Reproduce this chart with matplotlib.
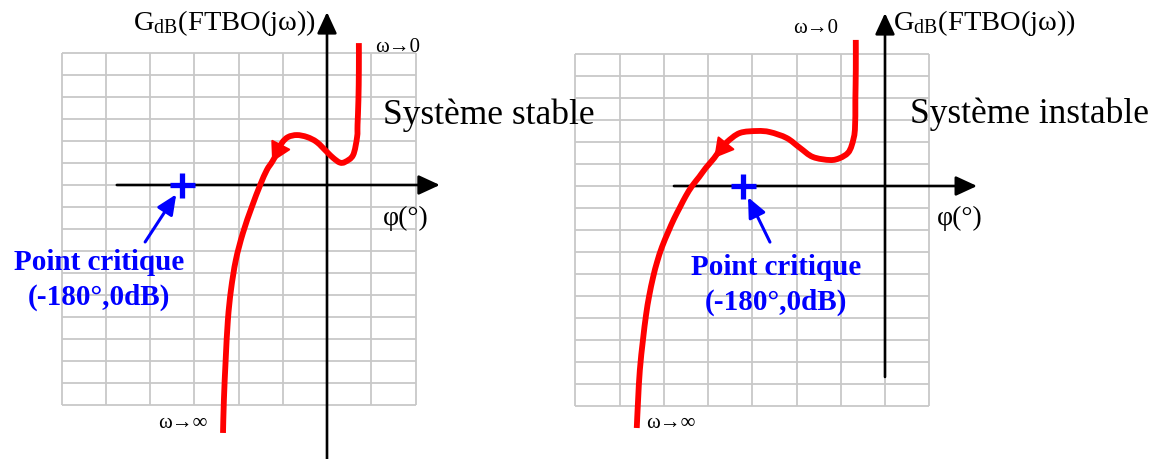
import matplotlib
matplotlib.use('Agg')
import matplotlib.pyplot as plt
from matplotlib.path import Path
from matplotlib.patches import PathPatch
import numpy as np

plt.rcParams['mathtext.fontset'] = 'custom'
plt.rcParams['mathtext.rm'] = 'Liberation Serif'
plt.rcParams['mathtext.it'] = 'Liberation Serif'
plt.rcParams['font.family'] = ['Liberation Serif', 'DejaVu Serif']

# ---------------- data (grid units: 1 = one grid division, origin = axes crossing)
stable_phase = [0.72, 0.72, 0.71, 0.69, 0.68, 0.59, 0.41, 0.29, 0.14, 0.0, -0.23,
                -0.45, -0.68, -0.88, -1.02, -1.13, -1.24, -1.36, -1.51, -1.70,
                -1.90, -2.06, -2.17, -2.24, -2.29, -2.33, -2.35]
stable_gain = [6.45, 5.23, 3.86, 2.73, 2.18, 1.36, 1.05, 1.02, 1.23, 1.50, 1.95,
               2.18, 2.27, 2.18, 1.91, 1.45, 1.05, 0.68, 0.0, -1.0,
               -2.18, -3.41, -4.77, -6.14, -7.95, -9.77, -11.27]

unstable_phase = [-0.66, -0.66, -0.67, -0.68, -0.75, -0.84, -1.02, -1.24, -1.63,
                  -1.92, -2.22, -2.60, -2.89, -3.28, -3.57, -3.73, -3.86, -4.05,
                  -4.20, -4.36, -4.50, -4.63, -4.77, -4.90, -5.04, -5.15, -5.24,
                  -5.33, -5.40, -5.47, -5.54, -5.58, -5.61]
unstable_gain = [6.64, 5.27, 3.91, 2.55, 1.86, 1.50, 1.27, 1.18, 1.32,
                 1.73, 2.18, 2.45, 2.50, 2.41, 2.00, 1.64, 1.27, 0.82,
                 0.41, 0.0, -0.45, -0.95, -1.50, -2.09, -2.77, -3.45, -4.14,
                 -5.0, -5.86, -7.0, -8.36, -9.73, -11.0]

critical_phase = [-3.27, -3.22]       # -180 deg, in grid units, per panel
critical_gain = [0.0, 0.0]

panel_titles = ['Système stable', 'Système instable']
y_label = 'G$_{\\mathrm{dB}}$(FTBO(jω))'
x_label = 'φ(°)'
critical_text = ['Point critique', '(-180°,0dB)']
omega_start = 'ω→0'
omega_end = 'ω→∞'

# ---------------- figure
W, H = 1158, 459
fig = plt.figure(figsize=(W / 100, H / 100), dpi=100)


def px_axes(x0, y0, x1, y1):
    return fig.add_axes([x0 / W, 1 - y1 / H, (x1 - x0) / W, (y1 - y0) / H])


def ftext(x, y, s, **kw):
    fig.text(x / W, 1 - y / H, s, **kw)


def smooth_path(xs, ys):
    """Cubic Bezier path (Catmull-Rom) passing through the given points."""
    P = np.column_stack([xs, ys]).astype(float)
    n = len(P)
    verts = [P[0]]
    codes = [Path.MOVETO]
    for i in range(n - 1):
        p0 = P[i - 1] if i > 0 else P[i]
        p1, p2 = P[i], P[i + 1]
        p3 = P[i + 2] if i + 2 < n else P[i + 1]
        verts += [p1 + (p2 - p0) / 6.0, p2 - (p3 - p1) / 6.0, p2]
        codes += [Path.CURVE4] * 3
    return Path(verts, codes)


GRID_C = '#c8c8c8'
panels = [
    dict(box=(61.5, 53, 415.5, 405), xlim=(-6, 2), haxis=(-4.75, 2.55), vaxis=(-12.6, 7.86),
         phase=stable_phase, gain=stable_gain, arrow_idx=16,
         tail=(-4.11, -2.59), shrink=8),
    dict(box=(575.25, 54, 929.25, 406), xlim=(-7, 1), haxis=(-4.77, 2.08), vaxis=(-8.68, 7.86),
         phase=unstable_phase, gain=unstable_gain, arrow_idx=16,
         tail=(-2.60, -2.55), shrink=9),
]

for i, p in enumerate(panels):
    ax = px_axes(*p['box'])
    ax.set_xlim(*p['xlim'])
    ax.set_ylim(-10, 6)
    ax.set_axis_off()
    xs = np.arange(p['xlim'][0], p['xlim'][1] + 1)
    ys = np.arange(-10, 7)
    ax.vlines(xs, -10, 6, colors=GRID_C, lw=1.3, clip_on=False, zorder=1)
    ax.hlines(ys, p['xlim'][0], p['xlim'][1], colors=GRID_C, lw=1.3, clip_on=False, zorder=1)

    ax_arrow = dict(arrowstyle='-|>,head_length=0.65,head_width=0.3', color='black',
                    lw=1.9, mutation_scale=20, shrinkA=0, shrinkB=0)
    ax.annotate('', xy=(p['haxis'][1], 0), xytext=(p['haxis'][0], 0),
                arrowprops=ax_arrow, annotation_clip=False, zorder=3)
    ax.annotate('', xy=(0, p['vaxis'][1]), xytext=(0, p['vaxis'][0]),
                arrowprops=ax_arrow, annotation_clip=False, zorder=3)

    curve = PathPatch(smooth_path(p['phase'], p['gain']), fill=False, edgecolor='#ff0000',
                      lw=4.2, joinstyle='round', capstyle='butt', clip_on=False, zorder=4)
    ax.add_patch(curve)
    k = p['arrow_idx']
    ax.annotate('', xy=(p['phase'][k], p['gain'][k]),
                xytext=(p['phase'][k - 2], p['gain'][k - 2]),
                arrowprops=dict(arrowstyle='-|>,head_length=0.6,head_width=0.34',
                                color='#ff0000', lw=1.5, mutation_scale=20,
                                shrinkA=0, shrinkB=0),
                annotation_clip=False, zorder=5)

    ax.plot([critical_phase[i]], [critical_gain[i]], marker='+', color='#0000ff',
            markersize=18, mew=3.8, clip_on=False, zorder=6)
    ax.annotate('', xy=(critical_phase[i], critical_gain[i]), xytext=p['tail'],
                arrowprops=dict(arrowstyle='-|>,head_length=0.6,head_width=0.27',
                                color='#0000ff', lw=2.2, mutation_scale=20,
                                shrinkA=0, shrinkB=p['shrink']),
                annotation_clip=False, zorder=6)

# ---------------- texts
lab = dict(color='black', va='baseline', ha='left')
blue = dict(color='#0000ff', va='baseline', ha='center', fontweight='bold', fontsize=21)

# left panel
ftext(133, 30, y_label, fontsize=20.5, **lab)
ftext(375, 52, omega_start, fontsize=15, **lab)
ftext(383, 124, panel_titles[0], fontsize=25.5, **lab)
ftext(383, 225, x_label, fontsize=20, **lab)
ftext(158, 428, omega_end, fontsize=15, **lab)
ftext(99, 270, critical_text[0], **blue)
ftext(99, 305, critical_text[1], **blue)

# right panel
ftext(893, 30, y_label, fontsize=20.5, **lab)
ftext(793, 33, omega_start, fontsize=15, **lab)
ftext(910, 123, panel_titles[1], fontsize=25.5, **lab)
ftext(937, 225, x_label, fontsize=20, **lab)
ftext(646, 428, omega_end, fontsize=15, **lab)
ftext(776, 275, critical_text[0], **blue)
ftext(776, 310, critical_text[1], **blue)

fig.savefig('out.png', dpi=100)
